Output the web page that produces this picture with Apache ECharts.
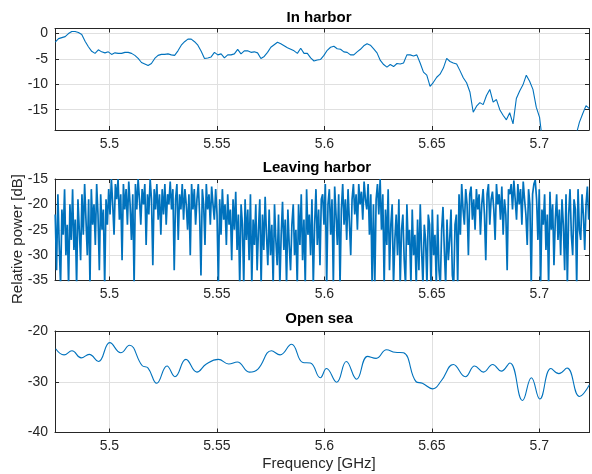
<!DOCTYPE html>
<html><head><meta charset="utf-8">
<script src="https://cdn.jsdelivr.net/npm/echarts@6/dist/echarts.min.js"></script>
<style>html,body{margin:0;padding:0;background:#fff}#c{width:592px;height:474px}</style>
</head><body><div id="c"></div>
<script>
// ---------- data ----------
const titles = ['In harbor', 'Leaving harbor', 'Open sea'];
const xLabelName = 'Frequency [GHz]';
const yLabelName = 'Relative power [dB]';
const freqRange = [5.4747, 5.7231];

// In harbor: samples on a regular frequency grid
const harborStartGHz = 5.4748, harborStepGHz = 0.0015432;
const harborDb = [
 -1.7,-1.0,-0.8,-0.6,0.0,0.4,0.4,0.2,-0.2,-1.5,
 -2.6,-3.5,-3.9,-3.2,-3.6,-3.8,-3.6,-4.1,-3.8,-3.9,
 -3.9,-3.7,-3.7,-3.9,-4.3,-4.9,-5.7,-6.0,-6.3,-5.9,
 -4.9,-4.3,-4.1,-4.1,-4.0,-4.2,-4.3,-3.4,-2.3,-1.6,
 -1.1,-1.1,-1.6,-2.3,-3.5,-4.9,-4.8,-4.6,-3.7,-4.2,
 -4.0,-4.8,-4.2,-4.2,-4.0,-3.1,-4.0,-3.4,-3.4,-3.7,
 -3.6,-3.8,-4.9,-4.5,-3.7,-2.7,-2.2,-1.7,-2.0,-2.4,
 -2.8,-3.1,-3.4,-3.9,-2.9,-3.9,-3.9,-4.8,-5.4,-5.2,
 -5.1,-4.3,-3.3,-2.7,-2.5,-3.0,-3.1,-3.6,-3.7,-4.2,
 -4.2,-3.6,-3.1,-2.4,-2.0,-2.3,-3.0,-3.8,-5.3,-6.1,
 -6.6,-6.1,-6.5,-5.9,-6.0,-5.8,-4.2,-4.2,-4.4,-4.2,
 -5.8,-7.6,-8.2,-10.4,-9.6,-8.6,-8.0,-6.8,-4.9,-5.5,
 -5.8,-6.0,-7.3,-8.7,-9.7,-11.5,-15.5,-14.3,-13.6,-14.0,
 -12.2,-11.0,-13.5,-13.0,-15.0,-16.1,-17.0,-15.6,-17.8,-12.8,
 -11.3,-10.1,-8.2,-9.4,-11.0,-14.5,-16.5,-22,-25,-27,
 -28,-28,-27,-26,-25,-23,-21.5,-20,-17.5,-15.8,
 -14.2,-14.8
];

// Leaving harbor: samples on a regular frequency grid
const leavingStartGHz = 5.4748, leavingStepGHz = 0.000622;
const leavingDb = [
 -22,-33,-18,-28,-36,-21,-26,-17,-30,-24,-36,-20,-27,-17,-29,-23,-36,-19,-25,-31,
 -18,-26,-16,-23,-30,-19,-36,-17,-24,-20,-28,-16,-22,-33,-18,-25,-21,-36,-19,-24,
 -17,-22,-15,-20,-26,-16,-19,-15,-23,-18,-31,-16,-21,-17,-24,-15.5,-20,-27,-18,-36,
 -16,-21,-15,-19,-24,-17,-20,-16,-28,-18,-22,-15,-19,-32,-17,-21,-16,-23,-18,-26,
 -17,-22,-16,-24,-18,-20,-15.5,-21,-17,-33,-19,-16,-27,-18,-21,-16,-23,-17,-20,-25,
 -18,-30,-16,-21,-17,-24,-19,-16,-22,-34,-17,-20,-28,-16,-21,-18,-24,-16.5,-20,-23,
 -17,-22,-36,-19,-26,-17,-23,-20,-28,-18,-24,-21,-31,-19,-25,-17.5,-29,-22,-36,-20,
 -24,-36,-19,-27,-21,-31,-18,-36,-23,-28,-20,-33,-25,-19,-36,-22,-29,-18.5,-26,-32,
 -21,-30,-24,-36,-20,-27,-32,-22,-36,-26,-19.5,-29,-23,-36,-21,-28,-33,-24,-20,-30,
 -25,-36,-20,-28,-18,-31,-23,-36,-17,-26,-22,-30,-19,-36,-24,-17,-28,-21,-32,-19,
 -18,-24,-16,-36,-20,-17,-26,-19,-36,-16.5,-22,-28,-18,-36,-21,-16,-24,-19,-27,-17,
 -17,-30,-19,-16,-22,-18,-25,-16,-20,-17.5,-23,-15.5,-19,-21,-16,-26,-18,-36,-20,-36,
 -19,-16,-22,-15,-25,-18,-36,-21,-28,-17,-33,-24,-20,-36,-27,-22,-30,-19,-36,-25,
 -22,-31,-36,-20,-28,-25,-36,-21,-30,-26,-36,-23,-33,-20,-29,-36,-24,-27,-36,-22,
 -24,-36,-21,-30,-26,-36,-22,-33,-36,-25,-20.5,-29,-36,-23,-31,-27,-21,-34,-36,-24,
 -22,-36,-18,-26,-16,-21,-24,-17,-20,-30,-18,-16.5,-23,-19,-25,-17,-21,-18,-26,-20,
 -17,-22,-31,-18,-16,-24,-19,-17.5,-21,-27,-16,-20,-18,-23,-16.5,-26,-19,-22,-33,-17,
 -18,-16,-21,-15.3,-19,-23,-16,-20,-17,-24,-15.5,-19,-22,-28,-17,-20,-36,-18,-16,-15.2,
 -19,-27,-17,-36,-21,-24,-18,-29,-22,-36,-17.5,-25,-20,-32,-23,-18,-27,-21,-30,-19,
 -24,-33,-18,-36,-22,-17,-26,-30,-19,-21,-36,-17,-25,-27,-18,-22,-29,-20,-16.5,-23
];

// Open sea: read at turning points
const seaFreq = [5.4750,5.4789,5.4826,5.4869,5.4906,5.4949,5.5002,5.5053,5.5093,5.5152,
 5.5180,5.5220,5.5268,5.5305,5.5356,5.5407,5.5451,5.5507,5.5555,5.5595,
 5.5651,5.5691,5.5754,5.5794,5.5847,5.5900,5.5935,5.5981,5.6010,5.6057,
 5.6102,5.6150,5.6201,5.6241,5.6289,5.6329,5.6368,5.6427,5.6456,5.6504,
 5.6544,5.6600,5.6656,5.6699,5.6740,5.6783,5.6823,5.6863,5.6922,5.6963,
 5.7002,5.7054,5.7091,5.7129,5.7187,5.7233];
const seaDb = [-23.5,-24.7,-23.9,-25.3,-24.6,-26.0,-22.3,-24.3,-22.8,-26.8,
 -27.3,-30.3,-26.9,-29.0,-25.6,-28.1,-26.5,-25.6,-26.5,-26.1,
 -28.1,-27.5,-23.9,-24.7,-22.6,-26.2,-26.3,-29.2,-27.4,-30.1,
 -26.0,-29.5,-25.0,-25.4,-23.7,-24.2,-24.3,-30.0,-30.3,-31.4,
 -29.8,-26.6,-29.0,-26.9,-28.1,-26.6,-27.9,-26.3,-33.7,-29.2,
 -33.4,-27.4,-28.4,-27.3,-32.9,-30.6];

const yRanges = [[-19, 1], [-35, -15], [-40, -20]];
const yIntervals = [5, 5, 10];

// ---------- layout / style ----------
const gridTops = [28.5, 179, 331];
const gridHeight = 101.5;
const lineColor = '#0072BD';
const axisColor = '#262626';
const gridColor = '#e0e0e0';
const fontFam = '"Liberation Sans", Arial, Helvetica, sans-serif';

function onStep(v, step) {
  const r = v / step;
  return Math.abs(r - Math.round(r)) < 1e-6;
}

const grids = [], xAxes = [], yAxes = [], series = [];
const seriesData = [
  harborDb.map((v, i) => [harborStartGHz + i * harborStepGHz, v]),
  leavingDb.map((v, i) => [leavingStartGHz + i * leavingStepGHz, v]),
  seaFreq.map((f, i) => [f, seaDb[i]])
];
const lineWidths = [1.1, 1.7, 1.1];

for (let g = 0; g < 3; g++) {
  grids.push({ left: 55, right: 0, top: gridTops[g], height: gridHeight, containLabel: false });
  const tick = { show: true, inside: true, length: 4, lineStyle: { color: axisColor, width: 1 } };
  const line = { show: true, onZero: false, lineStyle: { color: axisColor, width: 1 } };
  xAxes.push({
    type: 'value', gridIndex: g, position: 'bottom',
    min: freqRange[0], max: freqRange[1], minInterval: 0.05, maxInterval: 0.05,
    axisLine: line, axisTick: tick,
    splitLine: { show: true, lineStyle: { color: gridColor, width: 1 } },
    axisLabel: { show: true, margin: 7, color: axisColor, fontSize: 14, fontFamily: fontFam,
      formatter: v => onStep(v, 0.05) ? String(+v.toFixed(2)) : '' }
  });
  xAxes.push({
    type: 'value', gridIndex: g, position: 'top',
    min: freqRange[0], max: freqRange[1], minInterval: 0.05, maxInterval: 0.05,
    axisLine: line, axisTick: tick, splitLine: { show: false }, axisLabel: { show: false }
  });
  const yr = yRanges[g], yi = yIntervals[g];
  yAxes.push({
    type: 'value', gridIndex: g, position: 'left',
    min: yr[0], max: yr[1], minInterval: yi, maxInterval: yi,
    axisLine: line, axisTick: tick,
    splitLine: { show: true, lineStyle: { color: gridColor, width: 1 } },
    axisLabel: { show: true, margin: 7, color: axisColor, fontSize: 14, fontFamily: fontFam,
      formatter: v => onStep(v, yi) ? String(Math.round(v)) : '' }
  });
  yAxes.push({
    type: 'value', gridIndex: g, position: 'right',
    min: yr[0], max: yr[1], minInterval: yi, maxInterval: yi,
    axisLine: line, axisTick: tick, splitLine: { show: false }, axisLabel: { show: false }
  });
  series.push({
    type: 'line', xAxisIndex: 2 * g, yAxisIndex: 2 * g,
    data: seriesData[g], showSymbol: false, symbol: 'none', clip: true,
    smooth: g === 2 ? 0.45 : false,
    lineStyle: { color: lineColor, width: lineWidths[g] },
    animation: false
  });
}

function txt(text, x, y, font, fill, rot) {
  return { type: 'text', x: x, y: y, rotation: rot || 0, silent: true,
    style: { text: text, font: font, fill: fill, align: 'center', verticalAlign: 'middle',
             textAlign: 'center', textVerticalAlign: 'middle' } };
}
const titleY = [17.5, 168, 319];
const titleX = [319, 317, 319];
const graphics = titles.map((t, i) => txt(t, titleX[i], titleY[i], 'bold 15px ' + fontFam, '#000'));
graphics.push(txt(xLabelName, 319, 464, '15px ' + fontFam, axisColor));
graphics.push(txt(yLabelName, 18, 239, '15px ' + fontFam, axisColor, Math.PI / 2));

const chart = echarts.init(document.getElementById('c'), null, { renderer: 'canvas' });
chart.setOption({
  animation: false,
  backgroundColor: '#fff',
  grid: grids, xAxis: xAxes, yAxis: yAxes, series: series,
  graphic: { elements: graphics }
});
</script>
</body></html>
